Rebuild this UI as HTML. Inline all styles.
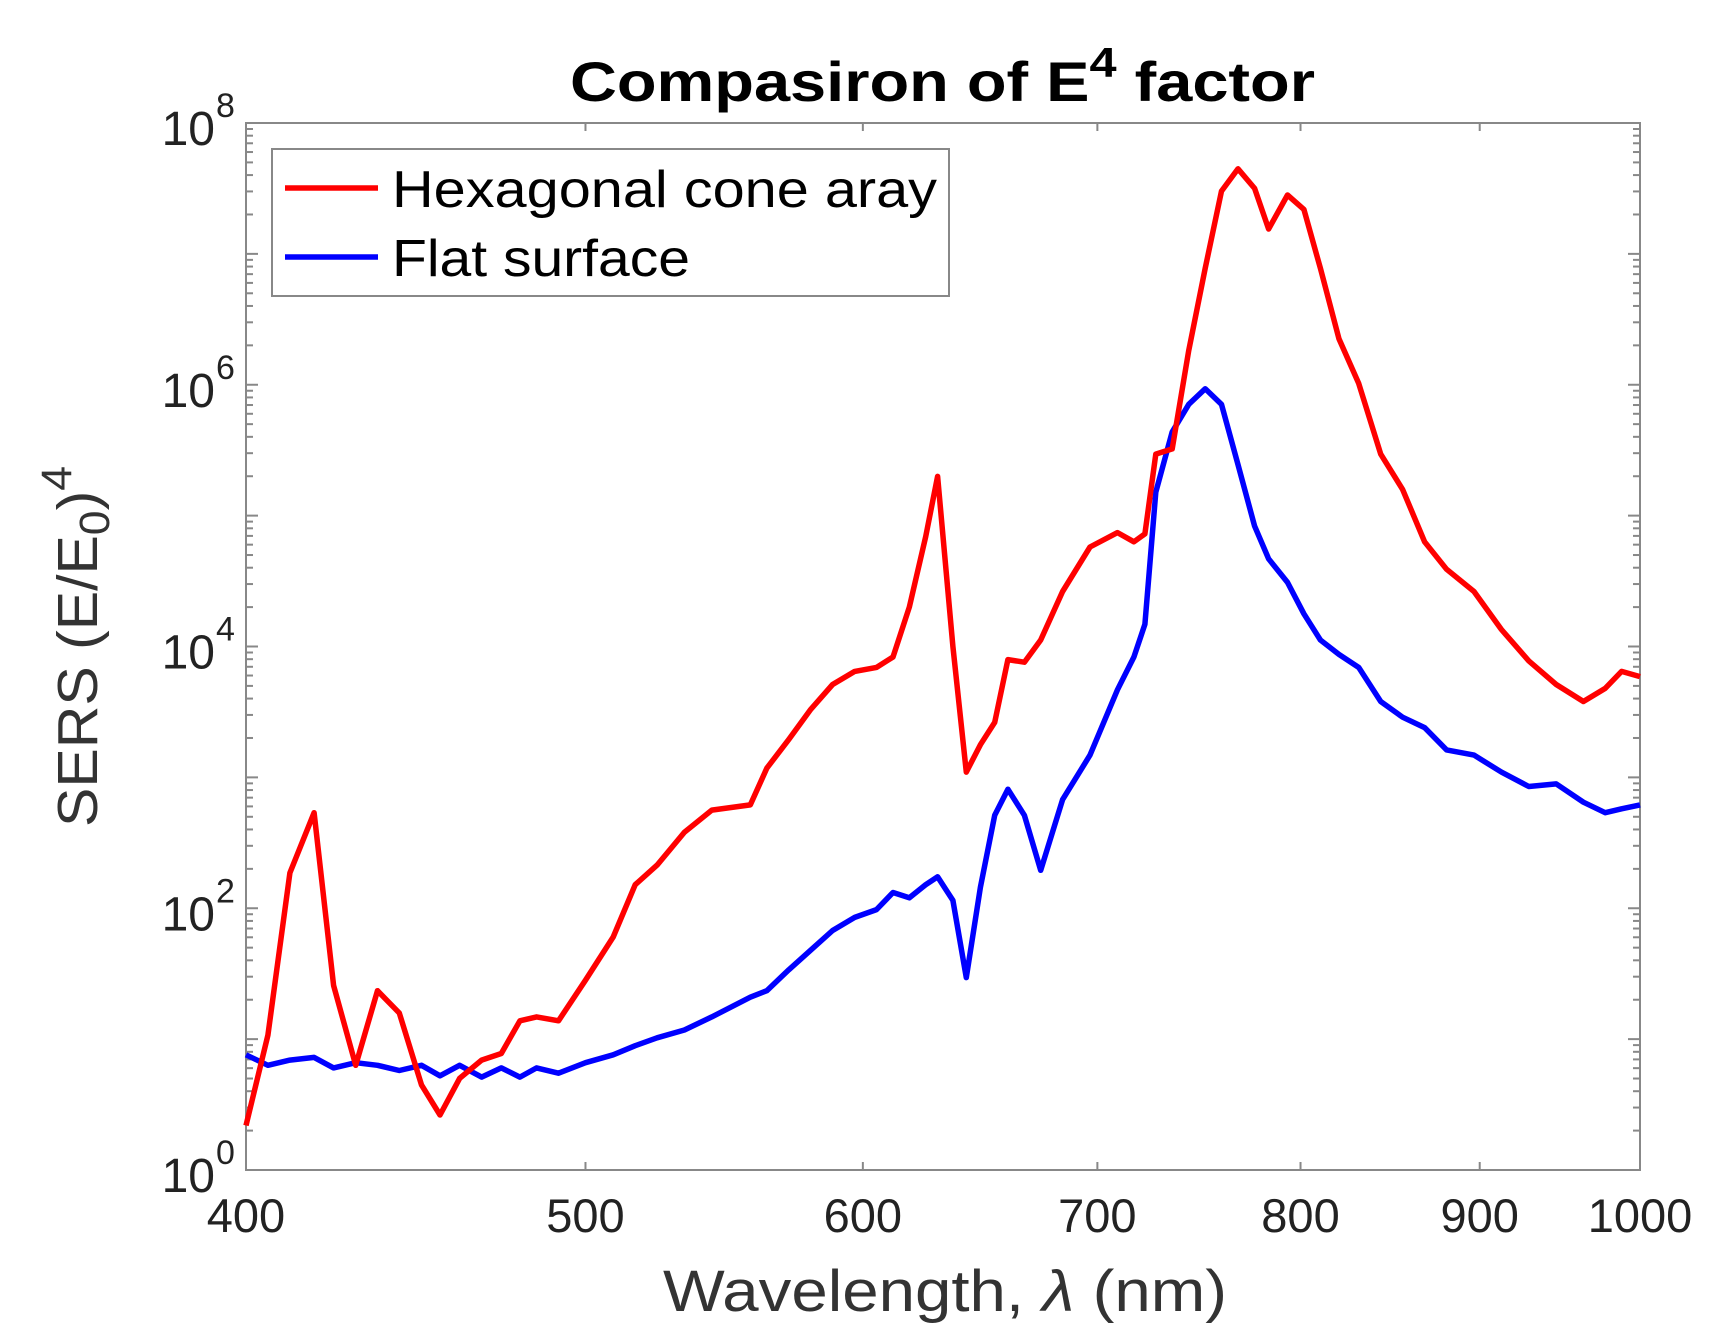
<!DOCTYPE html>
<html><head><meta charset="utf-8"><style>
html,body{margin:0;padding:0;background:#fff}
svg{display:block;font-family:"Liberation Sans",sans-serif}
</style></head><body>
<svg id="chart" width="1717" height="1339" viewBox="0 0 1717 1339" xmlns="http://www.w3.org/2000/svg">
<text x="570" y="101" textLength="745" lengthAdjust="spacingAndGlyphs" font-size="56" font-weight="bold" fill="#000">Compasiron of E<tspan dy="-24" font-size="42">4</tspan><tspan dy="24"> factor</tspan></text>
<g id="axes"></g>
<g id="series"></g>
<text x="663" y="1311" textLength="564" lengthAdjust="spacingAndGlyphs" font-size="58" fill="#333">Wavelength, <tspan font-style="italic">λ</tspan> (nm)</text>
<text transform="translate(97,827) rotate(-90)" textLength="361" lengthAdjust="spacingAndGlyphs" font-size="57" fill="#333">SERS (E/E<tspan dy="12" font-size="43">0</tspan><tspan dy="-12">)</tspan><tspan dy="-26" font-size="43">4</tspan></text>
<g>
<rect x="272" y="149" width="677" height="147" fill="#fff" stroke="#888" stroke-width="2"/>
<line x1="285" y1="188" x2="378" y2="188" stroke="#ff0000" stroke-width="5.5"/>
<text x="392" y="207" textLength="545" lengthAdjust="spacingAndGlyphs" font-size="52" fill="#000">Hexagonal cone aray</text>
<line x1="285" y1="257" x2="378" y2="257" stroke="#0000ff" stroke-width="5.5"/>
<text x="392" y="276" textLength="298" lengthAdjust="spacingAndGlyphs" font-size="52" fill="#000">Flat surface</text>
</g>
</svg>
<script>
const wavelengths=[400,405.8,411.7,418.3,423.7,429.9,436.1,442.4,448.9,454.4,460.3,467,473.1,478.9,484.2,491.2,500,509.2,516.6,524.1,533.6,543.3,557.2,563.3,571.5,579.8,588.2,596.8,605.4,612,618.6,625.3,630.2,636.6,642.2,648.2,654.3,660,667.2,674.4,684.2,696.6,709.3,717,722.2,727.4,735.3,743.3,751.4,759.5,767.8,776.2,783.4,793.2,801.8,810.5,820.5,831.2,843.3,855.5,868,880.6,896.6,912.9,929.5,946.4,963.5,977.4,988,1000];
const hexLog=[0.34,1.03,2.27,2.73,1.41,0.80,1.37,1.20,0.65,0.42,0.70,0.84,0.89,1.14,1.17,1.14,1.45,1.78,2.18,2.33,2.58,2.75,2.79,3.07,3.29,3.52,3.71,3.81,3.84,3.92,4.30,4.84,5.30,4.00,3.04,3.25,3.42,3.90,3.88,4.05,4.42,4.76,4.87,4.80,4.86,5.47,5.51,6.26,6.89,7.48,7.65,7.50,7.19,7.45,7.34,6.89,6.35,6.01,5.47,5.20,4.80,4.59,4.42,4.13,3.89,3.71,3.58,3.68,3.81,3.77];
const flatLog=[0.88,0.80,0.84,0.86,0.78,0.82,0.80,0.76,0.80,0.72,0.80,0.71,0.78,0.71,0.78,0.74,0.82,0.88,0.95,1.01,1.07,1.17,1.32,1.37,1.53,1.68,1.83,1.93,1.99,2.12,2.08,2.18,2.24,2.06,1.47,2.16,2.71,2.91,2.71,2.29,2.83,3.17,3.67,3.92,4.17,5.18,5.64,5.85,5.97,5.85,5.39,4.92,4.67,4.49,4.25,4.05,3.94,3.84,3.58,3.46,3.38,3.21,3.17,3.04,2.93,2.95,2.81,2.73,2.76,2.79];
const xTicks=[400,500,600,700,800,900,1000];
const yTickExps=[0,2,4,6,8];
const NS="http://www.w3.org/2000/svg";
const L=246,R=1640,T=123,B=1170;
function X(l){return L+Math.log10(l/400)/Math.log10(2.5)*(R-L);}
function Y(v){return B-v/8*(B-T);}
function mk(tag,attrs,parent){const e=document.createElementNS(NS,tag);for(const k in attrs)e.setAttribute(k,attrs[k]);parent.appendChild(e);return e;}
const ax=document.getElementById('axes');
const frame=mk('rect',{x:L,y:T,width:R-L,height:B-T,fill:'none',stroke:'#888','stroke-width':2},ax);


xTicks.forEach(t=>{const x=X(t);
 const a=mk('line',{x1:x,y1:B,x2:x,y2:B-8,stroke:'#888','stroke-width':2},ax);
 
 
 mk('line',{x1:x,y1:T,x2:x,y2:T+8,stroke:'#888','stroke-width':2},ax);
 const tx=mk('text',{x:x,y:1232,'text-anchor':'middle','font-size':47,fill:'#222'},ax);
 tx.textContent=t;
 
 
});
for(let d=0;d<8;d++){for(let m=2;m<=9;m++){const y=Y(d+Math.log10(m));
 mk('line',{x1:L,y1:y,x2:L+7,y2:y,stroke:'#888','stroke-width':2},ax);
 mk('line',{x1:R,y1:y,x2:R-7,y2:y,stroke:'#888','stroke-width':2},ax);}}
for(let d=0;d<=8;d++){const y=Y(d);
 mk('line',{x1:L,y1:y,x2:L+12,y2:y,stroke:'#888','stroke-width':2},ax);
 mk('line',{x1:R,y1:y,x2:R-12,y2:y,stroke:'#888','stroke-width':2},ax);}
yTickExps.forEach(e=>{const y=Y(e);
 const tx=mk('text',{x:215,y:y+22,'text-anchor':'end','font-size':48,fill:'#222'},ax);
 tx.textContent='10';
 
 
 const s=mk('text',{x:216,y:y-6,'text-anchor':'start','font-size':34,fill:'#222'},ax);
 s.textContent=e;
});
const sg=document.getElementById('series');
function line(vals,color,name){
 const d=vals.map((v,i)=>(i?'L':'M')+X(wavelengths[i]).toFixed(1)+','+Y(v).toFixed(1)).join(' ');
 const p=mk('path',{d:d,fill:'none',stroke:color,'stroke-width':5.5,'stroke-linejoin':'round'},sg);
 
 
}
line(flatLog,'#0000ff','flat-surface-line');
line(hexLog,'#ff0000','hexagonal-cone-line');
</script>
</body></html>
